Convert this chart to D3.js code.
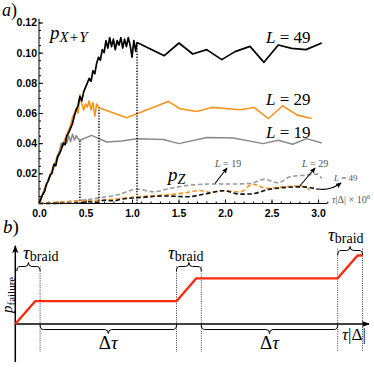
<!DOCTYPE html>
<html>
<head>
<meta charset="utf-8">
<script src="https://cdnjs.cloudflare.com/ajax/libs/d3/7.8.5/d3.min.js"></script>
<style>
  body { margin: 0; background: #fff; }
  svg { display: block; }
  .tick text { font-family: "Liberation Sans", Arial, sans-serif; font-weight: bold; font-size: 10.5px; fill: #000; }
  .serif { font-family: "Liberation Serif", "Times New Roman", serif; }
</style>
</head>
<body>
<svg id="fig" width="374" height="368"></svg>
<script>
'use strict'

// ---- panel a data: time in units of 10^6/|Delta|, failure probability ----
const xTicks = [0, 0.5, 1, 1.5, 2, 2.5, 3]
const yTicks = [0.02, 0.04, 0.06, 0.08, 0.1, 0.12]

// p_{X+Y}, dense (noisy) part of each run, then the coarse part
const blackDense = [
  [0, 0], [0.02, 0.003], [0.04, 0.006], [0.06, 0.008], [0.08, 0.013], [0.1, 0.015],
  [0.12, 0.019], [0.14, 0.02], [0.16, 0.026], [0.18, 0.025], [0.2, 0.031], [0.22, 0.033],
  [0.24, 0.036], [0.26, 0.04], [0.28, 0.039], [0.3, 0.045], [0.32, 0.047], [0.34, 0.05],
  [0.36, 0.053], [0.38, 0.058], [0.4, 0.062], [0.42, 0.065], [0.44, 0.071], [0.46, 0.068],
  [0.48, 0.074], [0.5, 0.077], [0.52, 0.08], [0.54, 0.083], [0.56, 0.081], [0.58, 0.088],
  [0.6, 0.086], [0.62, 0.093], [0.64, 0.097], [0.66, 0.095], [0.68, 0.102], [0.7, 0.1],
  [0.72, 0.108], [0.74, 0.103], [0.76, 0.11], [0.78, 0.104], [0.8, 0.109], [0.82, 0.102],
  [0.84, 0.108], [0.86, 0.105], [0.88, 0.11], [0.9, 0.103], [0.92, 0.109], [0.94, 0.104],
  [0.96, 0.11], [0.98, 0.105], [1.0, 0.097], [1.02, 0.108], [1.04, 0.101], [1.054, 0.1068]
]
const blackCoarse = [
  [1.054, 0.1068], [1.347, 0.098], [1.505, 0.1064], [1.653, 0.0991], [1.803, 0.102],
  [1.965, 0.0954], [2.108, 0.1007], [2.269, 0.1042], [2.419, 0.0936], [2.573, 0.1051],
  [2.717, 0.1028], [2.871, 0.102], [3.04, 0.1064]
]
const orangeDense = [
  [0, 0], [0.02, 0.002], [0.04, 0.007], [0.06, 0.009], [0.08, 0.012], [0.1, 0.016],
  [0.12, 0.018], [0.14, 0.022], [0.16, 0.024], [0.18, 0.028], [0.2, 0.03], [0.22, 0.034],
  [0.24, 0.037], [0.26, 0.039], [0.28, 0.043], [0.3, 0.046], [0.32, 0.049], [0.34, 0.052],
  [0.36, 0.057], [0.38, 0.06], [0.4, 0.063], [0.42, 0.06], [0.44, 0.072], [0.46, 0.066],
  [0.48, 0.062], [0.5, 0.066], [0.52, 0.064], [0.54, 0.068], [0.56, 0.062], [0.58, 0.067],
  [0.6, 0.058], [0.62, 0.066], [0.645, 0.0635]
]
const orangeCoarse = [
  [0.645, 0.0635], [0.943, 0.0569], [1.39, 0.0677], [1.516, 0.0628], [1.695, 0.061],
  [1.857, 0.0637], [2.161, 0.0622], [2.312, 0.0637], [2.466, 0.0562], [2.62, 0.0648],
  [2.778, 0.0586], [2.932, 0.0564]
]
const grayDense = [
  [0, 0], [0.02, 0.003], [0.04, 0.006], [0.06, 0.01], [0.08, 0.012], [0.1, 0.016],
  [0.12, 0.018], [0.14, 0.022], [0.16, 0.025], [0.18, 0.028], [0.2, 0.032], [0.22, 0.035],
  [0.24, 0.04], [0.26, 0.038], [0.28, 0.043], [0.3, 0.04], [0.32, 0.045], [0.34, 0.041],
  [0.36, 0.046], [0.38, 0.042], [0.4, 0.045], [0.42, 0.043], [0.44, 0.0419]
]
const grayCoarse = [
  [0.44, 0.0419], [0.566, 0.0452], [0.728, 0.0408], [0.889, 0.0415], [1.054, 0.043],
  [1.337, 0.0424], [1.505, 0.0397], [1.803, 0.0437], [2.09, 0.0434], [2.41, 0.0397],
  [2.573, 0.0419], [2.728, 0.0393], [2.878, 0.043], [3.04, 0.0401]
]

// p_Z
const zGray = [
  [0, 0], [0.26, 0.001], [0.44, 0.002], [0.62, 0.0034], [0.835, 0.0056], [1.06, 0.0094],
  [1.23, 0.0078], [1.41, 0.01], [1.624, 0.0122], [1.84, 0.0129], [2.05, 0.0129],
  [2.27, 0.0133], [2.42, 0.016], [2.57, 0.0137], [2.7, 0.0177], [2.86, 0.0188],
  [2.99, 0.0195], [3.04, 0.0166]
]
const zOrange = [
  [0, 0], [0.2, 0.0008], [0.44, 0.0017], [0.62, 0.002], [0.8, 0.0028], [1.06, 0.0045],
  [1.34, 0.0056], [1.59, 0.0072], [1.73, 0.0086], [1.84, 0.0074], [2.0, 0.0085],
  [2.16, 0.0076], [2.3, 0.0128], [2.45, 0.01], [2.63, 0.0111], [2.81, 0.0116], [2.91, 0.009]
]
const zBlack = [
  [0, 0], [0.44, 0.0003], [0.52, 0.0012], [0.62, 0.0008], [0.7, 0.0022], [0.8, 0.0018],
  [0.9, 0.003], [1.06, 0.0038], [1.34, 0.005], [1.59, 0.0045], [1.8, 0.0065],
  [1.98, 0.0085], [2.16, 0.0062], [2.27, 0.0063], [2.48, 0.0094], [2.66, 0.0107],
  [2.84, 0.011], [3.0, 0.0094]
]

// ---- panel b data: schematic schedule ----
const tauBraid = 1
const rampLen = 0.8
const braidStarts = [0, 6.5, 13]
const levels = [0, 1, 2, 3]
const tEnd = 14

const svg = d3.select('#fig')

// ================= panel a =================
const x = d3.scaleLinear().domain([0, 3]).range([39, 318])
const y = d3.scaleLinear().domain([0, 0.12]).range([203.5, 22.5])

const xAxis = d3.axisBottom(x).tickValues(xTicks).tickSize(-4).tickPadding(6)
  .tickFormat(d3.format('.1f'))
const xMinor = d3.axisBottom(x).tickValues(d3.range(0, 3.11, 0.1)).tickSize(-2).tickFormat('')
const yAxis = d3.axisLeft(y).tickValues(yTicks).tickSize(-4).tickPadding(2)
  .tickFormat(d3.format('.2f'))
const yMinor = d3.axisLeft(y).tickValues(d3.range(0.005, 0.1201, 0.005)).tickSize(-2).tickFormat('')

const gx = svg.append('g').attr('transform', `translate(0,${y(0)})`)
gx.call(xAxis)
gx.append('g').call(xMinor)
gx.selectAll('.domain').remove()
gx.append('line').attr('x1', x(0)).attr('x2', x(3.1)).attr('stroke', '#000')

const gy = svg.append('g').attr('transform', `translate(${x(0)},0)`)
gy.call(yAxis)
gy.append('g').call(yMinor)
gy.selectAll('.domain').remove()
gy.append('line').attr('y1', y(0)).attr('y2', y(0.1225)).attr('stroke', '#000')
svg.selectAll('.tick line').attr('stroke', '#000')

const line = d3.line().x(d => x(d[0])).y(d => y(d[1]))
const smooth = d3.line().x(d => x(d[0])).y(d => y(d[1])).curve(d3.curveMonotoneX)

const plot = svg.append('g').attr('fill', 'none').attr('stroke-linejoin', 'round')

// p_Z dashed
const dashed = [[zGray, '#9a9a9a'], [zOrange, '#f7931e'], [zBlack, '#111']]
dashed.forEach(function (s) {
  plot.append('path').attr('d', smooth(s[0])).attr('stroke', s[1])
    .attr('stroke-width', 1.6).attr('stroke-dasharray', '4.5,2.5')
})

// p_{X+Y} solid
const solid = [
  [grayDense, grayCoarse, '#8a8a8a', 1.5],
  [orangeDense, orangeCoarse, '#f7931e', 1.6],
  [blackDense, blackCoarse, '#000', 1.7]
]
solid.forEach(function (s) {
  plot.append('path').attr('d', line(s[0])).attr('stroke', s[2]).attr('stroke-width', s[3])
  plot.append('path').attr('d', line(s[1])).attr('stroke', s[2]).attr('stroke-width', s[3])
})

// dotted markers at the end of each dense run
const ends = [grayDense, orangeDense, blackDense].map(function (s) { return s[s.length - 1] })
plot.selectAll('.endline').data(ends).enter().append('line')
  .attr('class', 'endline')
  .attr('x1', d => x(d[0])).attr('x2', d => x(d[0]))
  .attr('y1', y(0)).attr('y2', d => y(d[1]))
  .attr('stroke', '#000').attr('stroke-width', 1.4).attr('stroke-dasharray', '1.3,1.5')

// arrows
const defs = svg.append('defs')
defs.append('marker').attr('id', 'arr').attr('viewBox', '0 -4 8 8')
  .attr('refX', 7).attr('refY', 0).attr('markerWidth', 6).attr('markerHeight', 6)
  .attr('markerUnits', 'userSpaceOnUse').attr('orient', 'auto')
  .append('path').attr('d', 'M0,-3.5L8,0L0,3.5L1.5,0Z').attr('fill', '#000')

const ann = svg.append('g').attr('fill', 'none').attr('stroke', '#000').attr('stroke-width', 1.1)
ann.append('path').attr('d', 'M215,183.5L227,168').attr('marker-end', 'url(#arr)')
ann.append('path').attr('d', 'M299,187L315,168').attr('marker-end', 'url(#arr)')
ann.append('path').attr('d', 'M318,189Q330,191 341,183').attr('marker-end', 'url(#arr)')

// texts panel a
function mathText (g, xx, yy, parts, anchor) {
  const t = g.append('text').attr('class', 'serif').attr('x', xx).attr('y', yy)
    .attr('text-anchor', anchor || 'start').attr('fill', '#000')
  parts.forEach(function (p) {
    const s = t.append('tspan').text(p.t).attr('font-size', p.s)
    if (p.i) s.attr('font-style', 'italic')
    if (p.dy) s.attr('dy', p.dy)
    if (p.dx) s.attr('dx', p.dx)
    if (p.fill) s.attr('fill', p.fill)
  })
  return t
}

mathText(svg, 2, 16, [{ t: 'a', s: 18, i: 1 }, { t: ')', s: 18 }])
mathText(svg, 50, 39, [
  { t: 'p', s: 19, i: 1 }, { t: 'X', s: 15, i: 1, dy: 3 }, { t: '+', s: 15, dx: 1 },
  { t: 'Y', s: 15, i: 1, dx: 1 }
])
mathText(svg, 266, 43, [{ t: 'L', s: 17, i: 1 }, { t: ' = 49', s: 17 }])
mathText(svg, 266, 105, [{ t: 'L', s: 17, i: 1 }, { t: ' = 29', s: 17 }])
mathText(svg, 266, 138, [{ t: 'L', s: 17, i: 1 }, { t: ' = 19', s: 17 }])
mathText(svg, 168, 181, [{ t: 'p', s: 19, i: 1 }, { t: 'Z', s: 14, i: 1, dy: 3 }])
const grey = '#555'
mathText(svg, 215, 167, [{ t: 'L', s: 10, i: 1, fill: grey }, { t: ' = 19', s: 10, fill: grey }])
mathText(svg, 302, 167, [{ t: 'L', s: 10, i: 1, fill: grey }, { t: ' = 29', s: 10, fill: grey }])
mathText(svg, 334, 181, [{ t: 'L', s: 9, i: 1, fill: grey }, { t: ' = 49', s: 9, fill: grey }])
mathText(svg, 332, 203, [
  { t: 'τ', s: 10, i: 1, fill: grey }, { t: '|Δ| × 10', s: 10, fill: grey },
  { t: '6', s: 7, dy: -4, fill: grey }
])

// ================= panel b =================
const xb = d3.scaleLinear().domain([0, tEnd]).range([15.3, 362.5])
const yb = d3.scaleLinear().domain([0, 3]).range([324, 255.5])

// red staircase built from braid starts
const stair = []
braidStarts.forEach(function (s, i) {
  stair.push([s, levels[i]])
  stair.push([s + rampLen, levels[i + 1]])
})
stair.push([tEnd, levels[levels.length - 1]])

// dotted guides at braid boundaries
const guides = []
braidStarts.forEach(function (s, i) {
  const top = i === braidStarts.length - 1 ? 248.5 : 266.5
  if (s > 0) guides.push([s, top])
  guides.push([s + tauBraid, top])
})
svg.append('g').selectAll('line').data(guides).enter().append('line')
  .attr('x1', d => xb(d[0])).attr('x2', d => xb(d[0]))
  .attr('y1', d => d[1]).attr('y2', 352)
  .attr('stroke', '#000').attr('stroke-width', 0.8).attr('stroke-dasharray', '1,1.3')

// axes with arrows
defs.append('marker').attr('id', 'arrb').attr('viewBox', '0 -4 9 8')
  .attr('refX', 8).attr('refY', 0).attr('markerWidth', 8).attr('markerHeight', 8)
  .attr('markerUnits', 'userSpaceOnUse').attr('orient', 'auto')
  .append('path').attr('d', 'M0,-3.5L9,0L0,3.5L2,0Z').attr('fill', '#000')
svg.append('line').attr('x1', xb(0)).attr('x2', xb(0)).attr('y1', 362).attr('y2', 246)
  .attr('stroke', '#000').attr('stroke-width', 1.5).attr('marker-end', 'url(#arrb)')
svg.append('line').attr('x1', xb(0)).attr('x2', 369).attr('y1', yb(0)).attr('y2', yb(0))
  .attr('stroke', '#000').attr('stroke-width', 1.5).attr('marker-end', 'url(#arrb)')

const lineB = d3.line().x(d => xb(d[0])).y(d => yb(d[1]))
svg.append('path').attr('d', lineB(stair)).attr('fill', 'none')
  .attr('stroke', '#ff2a0d').attr('stroke-width', 2.4).attr('stroke-linejoin', 'round')

// braces
function brace (x1, x2, yTip, dir) {
  const xm = (x1 + x2) / 2
  const yBar = yTip + dir * 4.5
  const yBump = yTip + dir * 8.5
  const r = 3.5
  return `M${x1},${yTip}Q${x1},${yBar} ${x1 + r},${yBar}L${xm - r},${yBar}` +
    `Q${xm},${yBar} ${xm},${yBump}Q${xm},${yBar} ${xm + r},${yBar}` +
    `L${x2 - r},${yBar}Q${x2},${yBar} ${x2},${yTip}`
}
const labelStart = [23, 168, 328]
const br = svg.append('g').attr('fill', 'none').attr('stroke', '#000').attr('stroke-width', 1)
braidStarts.forEach(function (s, i) {
  const last = i === braidStarts.length - 1
  const tip = last ? 255 : 271
  const x1 = s === 0 ? xb(s) + 1.5 : xb(s)
  br.append('path').attr('d', brace(x1, xb(s + tauBraid), tip, -1))
  mathText(svg, labelStart[i], last ? 241 : 259, [{ t: 'τ', s: 19, i: 1 }, { t: 'braid', s: 14, dy: 2 }])
  if (!last) {
    const g1 = xb(s + tauBraid)
    const g2 = xb(braidStarts[i + 1])
    br.append('path').attr('d', brace(g1, g2, 325, 1))
    mathText(svg, (g1 + g2) / 2, 349, [{ t: 'Δ', s: 19 }, { t: 'τ', s: 19, i: 1 }], 'middle')
  }
})

mathText(svg, 3, 233, [{ t: 'b', s: 19, i: 1 }, { t: ')', s: 19 }])
mathText(svg, 342, 340, [{ t: 'τ', s: 17, i: 1 }, { t: '|Δ|', s: 17 }])
mathText(svg, 0, 0, [{ t: 'p', s: 15, i: 1 }, { t: 'failure', s: 11, dy: 3 }])
  .attr('transform', 'translate(12,313) rotate(-90)')
</script>
</body>
</html>
